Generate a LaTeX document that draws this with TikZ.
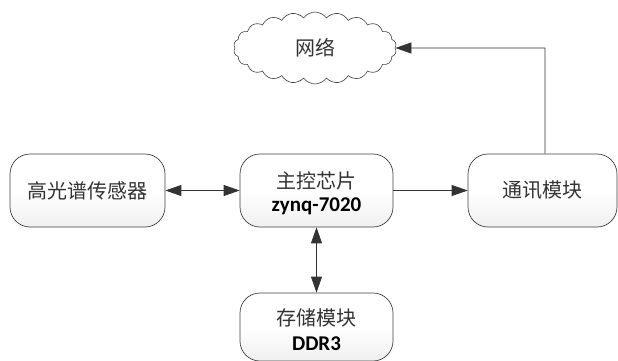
\documentclass[tikz,border=0pt]{standalone}
\usepackage{fontspec}
\setmainfont{Carlito}
\newfontfamily\cjk{Noto Sans CJK SC}
\usetikzlibrary{shapes.symbols,arrows.meta}
\begin{document}
\begin{tikzpicture}[x=1pt,y=-1pt,
  blk/.style={draw=black!75,line width=0.7pt,top color=white,bottom color=black!6,middle color=white,rounded corners=20pt,minimum width=#1,align=center,inner sep=0pt},
  blk/.default=153pt,
  cn/.style={font=\cjk\fontsize{20}{24}\selectfont,text=black!80,inner sep=0pt},
  en/.style={font=\bfseries\fontsize{21}{24}\selectfont,text=black,inner sep=0pt},
  conn/.style={draw=black!80,line width=0.8pt,-{Triangle[length=16pt,width=11pt]}},
  bconn/.style={draw=black!80,line width=0.8pt,{Triangle[length=16pt,width=11pt]}-{Triangle[length=16pt,width=11pt]}}]
\useasboundingbox (0,0) rectangle (618,361);
\node[blk=155pt,minimum height=73pt] (sensor) at (87.5,190.5) {};
\node[cn] (sensorT) at (sensor.center) {高光谱传感器};
\node[blk=153pt,minimum height=73pt] (soc) at (316.5,190.5) {};
\node[cn] (socT) at (316.5,181) {主控芯片};
\node[en] (socE) at (316.5,206) {zynq-7020};
\node[blk=149pt,minimum height=73pt] (comm) at (542.5,190.5) {};
\node[cn] (commT) at (comm.center) {通讯模块};
\node[blk=153pt,minimum height=68pt] (mem) at (316.5,327) {};
\node[cn] (memT) at (316.5,318) {存储模块};
\node[en] (memE) at (316.5,344) {DDR3};
\node[cloud,draw=black!75,line width=0.6pt,cloud puffs=22,cloud puff arc=110,aspect=2.3,minimum width=163pt,minimum height=72pt,inner sep=0pt] (net) at (315,48) {};
\node[cn] (netT) at (net.center) {网络};
\draw[bconn] (sensor.east) -- (soc.west);
\draw[conn] (soc.east) -- (comm.west);
\draw[bconn] (soc.south) -- (mem.north);
\coordinate (corner) at (545,48);
\draw[conn] (comm.north -| corner) -- (corner) -- (net.east);
\end{tikzpicture}
\end{document}
